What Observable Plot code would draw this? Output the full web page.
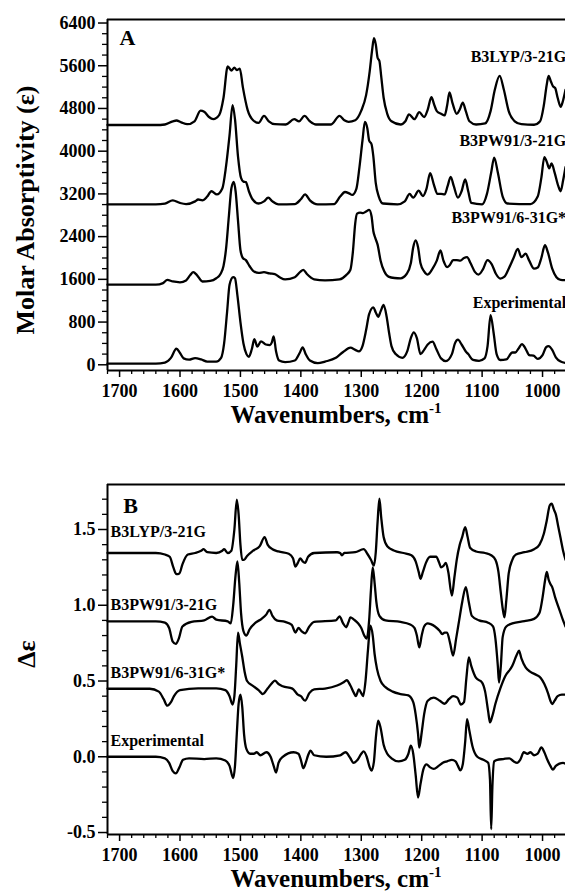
<!DOCTYPE html>
<html><head><meta charset="utf-8">
<script src="https://cdn.jsdelivr.net/npm/d3@7"></script>
<script src="https://cdn.jsdelivr.net/npm/@observablehq/plot@0.6"></script>
<style>
body{margin:0;background:#fff;}
#chart{width:565px;height:894px;overflow:hidden;background:#fff;}
#chart svg{display:block;}
</style></head><body><div id="chart"></div>
<script>
// ---------- Panel A: IR absorption, [wavenumber, molar absorptivity (offset as plotted)] ----------
const irB3LYP321 = [[1720,4490],[1640,4490],[1625,4500],[1612,4560],[1606,4575],[1598,4540],[1588,4505],[1576,4560],[1566,4760],[1560,4740],[1552,4640],[1545,4600],[1535,4680],[1528,5000],[1521,5590],[1515,5510],[1510,5565],[1506,5520],[1501,5545],[1496,5200],[1488,4770],[1479,4580],[1470,4530],[1461,4660],[1453,4560],[1443,4505],[1425,4500],[1411,4600],[1403,4560],[1394,4660],[1385,4560],[1375,4500],[1350,4500],[1336,4660],[1328,4580],[1321,4550],[1310,4580],[1300,4760],[1292,5050],[1286,5500],[1282,5900],[1279,6116],[1276,6000],[1273,5750],[1270,5690],[1267,5400],[1263,5000],[1257,4700],[1250,4560],[1235,4500],[1227,4560],[1221,4690],[1212,4600],[1204,4730],[1196,4640],[1190,4780],[1184,5010],[1179,4860],[1175,4750],[1168,4700],[1162,4670],[1158,4850],[1154,5100],[1149,4900],[1142,4700],[1137,4780],[1132,4910],[1127,4750],[1121,4560],[1110,4500],[1095,4520],[1086,4750],[1079,5150],[1071,5410],[1064,5150],[1056,4750],[1046,4560],[1035,4505],[1014,4495],[1004,4560],[998,4850],[993,5250],[990,5410],[986,5300],[983,5220],[979,5180],[975,5000],[970,4830],[966,4950],[962,5150]];
const irB3PW91321 = [[1720,3005],[1640,3005],[1625,3020],[1612,3080],[1600,3030],[1590,3010],[1575,3060],[1570,3095],[1563,3080],[1555,3150],[1548,3250],[1539,3190],[1530,3300],[1524,3700],[1518,4300],[1513,4864],[1509,4600],[1504,3900],[1499,3500],[1495,3430],[1491,3420],[1486,3250],[1480,3100],[1470,3020],[1461,3060],[1454,3130],[1447,3060],[1437,3005],[1410,3010],[1400,3100],[1393,3190],[1385,3080],[1372,3005],[1345,3010],[1335,3150],[1327,3236],[1320,3210],[1315,3180],[1308,3300],[1303,3700],[1298,4200],[1294,4550],[1290,4430],[1287,4200],[1283,4130],[1280,3900],[1276,3400],[1271,3150],[1264,3020],[1240,3005],[1228,3060],[1220,3200],[1214,3130],[1205,3260],[1198,3160],[1192,3300],[1186,3590],[1180,3380],[1174,3200],[1168,3200],[1162,3190],[1157,3350],[1152,3520],[1147,3350],[1140,3130],[1134,3250],[1128,3470],[1123,3250],[1118,3030],[1100,3005],[1092,3200],[1085,3600],[1080,3880],[1074,3600],[1066,3150],[1058,3020],[1020,3010],[1008,3150],[1002,3500],[997,3890],[993,3800],[989,3680],[985,3770],[980,3600],[974,3350],[970,3250],[966,3450],[962,3700]];
const irB3PW91631 = [[1720,1500],[1640,1500],[1628,1530],[1621,1590],[1612,1560],[1600,1545],[1590,1580],[1583,1680],[1578,1734],[1572,1680],[1563,1560],[1550,1570],[1540,1620],[1533,1700],[1528,1850],[1524,2150],[1519,2800],[1515,3300],[1511,3424],[1508,3250],[1504,2700],[1500,2150],[1496,2000],[1491,1960],[1485,1850],[1479,1760],[1470,1720],[1461,1734],[1452,1710],[1443,1700],[1435,1640],[1426,1600],[1410,1640],[1401,1740],[1396,1778],[1390,1700],[1378,1600],[1360,1580],[1336,1600],[1325,1680],[1318,1780],[1314,2100],[1310,2650],[1307,2830],[1302,2850],[1297,2840],[1292,2870],[1287,2900],[1283,2780],[1280,2500],[1277,2380],[1273,2250],[1268,1950],[1262,1750],[1255,1650],[1245,1625],[1235,1620],[1225,1700],[1218,1900],[1214,2200],[1210,2330],[1206,2200],[1202,1900],[1196,1750],[1190,1690],[1182,1800],[1175,1950],[1169,2140],[1164,1950],[1158,1830],[1154,1860],[1148,1960],[1142,1960],[1136,1950],[1130,2000],[1125,2016],[1119,1900],[1112,1740],[1106,1690],[1099,1780],[1091,1960],[1084,1880],[1077,1700],[1070,1615],[1063,1650],[1056,1800],[1048,2000],[1041,2170],[1035,2016],[1028,2080],[1022,1950],[1014,1800],[1008,1820],[1002,2000],[996,2240],[991,2100],[984,1800],[977,1640],[970,1590],[962,1585]];
const irExperimental = [[1720,20],[1640,20],[1625,40],[1615,130],[1606,300],[1600,220],[1594,120],[1585,95],[1575,125],[1565,100],[1555,60],[1540,60],[1532,130],[1527,400],[1522,1000],[1518,1500],[1512,1640],[1509,1620],[1505,1300],[1500,800],[1495,400],[1490,200],[1486,150],[1481,300],[1477,482],[1472,340],[1466,438],[1458,380],[1451,370],[1448,420],[1445,532],[1441,250],[1436,80],[1426,50],[1410,80],[1402,220],[1397,325],[1392,200],[1385,80],[1372,30],[1360,60],[1342,130],[1330,240],[1318,320],[1310,280],[1304,250],[1298,350],[1292,650],[1287,950],[1280,1076],[1276,980],[1272,900],[1268,1000],[1263,1120],[1258,900],[1254,600],[1250,350],[1243,200],[1232,130],[1224,250],[1218,500],[1213,607],[1208,500],[1202,200],[1196,280],[1190,380],[1182,432],[1176,300],[1168,120],[1160,70],[1150,200],[1145,400],[1140,470],[1134,380],[1127,250],[1123,200],[1115,90],[1105,75],[1096,120],[1091,350],[1086,930],[1081,600],[1076,200],[1070,90],[1060,100],[1050,230],[1045,230],[1040,300],[1034,388],[1028,300],[1022,180],[1015,170],[1008,110],[1000,180],[994,330],[990,350],[984,280],[978,140],[970,60],[962,35]];

// ---------- Panel B: VCD, [wavenumber, Δε (offset as plotted)] ----------
const vcdB3LYP321 = [[1720,1.345],[1640,1.345],[1625,1.335],[1617,1.32],[1611,1.25],[1606,1.205],[1601,1.21],[1596,1.27],[1587,1.335],[1575,1.345],[1565,1.36],[1561,1.37],[1555,1.35],[1540,1.345],[1530,1.36],[1527,1.37],[1521,1.345],[1515,1.36],[1510,1.50],[1506,1.697],[1503,1.60],[1500,1.40],[1497,1.30],[1494,1.30],[1489,1.325],[1479,1.36],[1468,1.39],[1460,1.45],[1455,1.40],[1447,1.37],[1437,1.355],[1420,1.34],[1413,1.31],[1409,1.255],[1405,1.28],[1401,1.31],[1397,1.29],[1393,1.28],[1388,1.32],[1378,1.345],[1340,1.35],[1335,1.345],[1332,1.33],[1328,1.345],[1310,1.35],[1296,1.37],[1290,1.34],[1284,1.30],[1279,1.262],[1276,1.35],[1273,1.55],[1270,1.703],[1267,1.58],[1263,1.45],[1257,1.39],[1245,1.36],[1230,1.345],[1217,1.33],[1210,1.29],[1205,1.22],[1202,1.175],[1198,1.22],[1193,1.28],[1186,1.32],[1181,1.32],[1176,1.32],[1171,1.28],[1168,1.25],[1164,1.26],[1160,1.28],[1156,1.22],[1150,1.064],[1146,1.18],[1142,1.30],[1137,1.40],[1133,1.45],[1128,1.515],[1124,1.45],[1120,1.38],[1110,1.355],[1095,1.345],[1085,1.33],[1078,1.30],[1073,1.22],[1069,1.08],[1066,0.98],[1063,0.92],[1060,1.03],[1056,1.21],[1050,1.30],[1044,1.335],[1030,1.35],[1014,1.37],[1005,1.40],[998,1.47],[993,1.56],[988,1.66],[985,1.67],[981,1.63],[978,1.60],[974,1.52],[970,1.44],[966,1.36],[962,1.30]];
const vcdB3PW91321 = [[1720,0.894],[1640,0.894],[1625,0.885],[1618,0.85],[1612,0.76],[1607,0.745],[1602,0.78],[1596,0.86],[1581,0.89],[1560,0.90],[1547,0.925],[1540,0.905],[1521,0.894],[1516,0.88],[1512,1.00],[1508,1.20],[1505,1.29],[1502,1.15],[1499,0.95],[1495,0.83],[1490,0.80],[1485,0.84],[1475,0.885],[1465,0.91],[1457,0.94],[1452,0.97],[1447,0.93],[1440,0.90],[1426,0.89],[1415,0.87],[1409,0.82],[1404,0.85],[1399,0.83],[1393,0.815],[1386,0.86],[1378,0.89],[1342,0.90],[1336,0.927],[1330,0.88],[1325,0.855],[1321,0.89],[1318,0.92],[1312,0.905],[1305,0.88],[1300,0.85],[1295,0.80],[1291,0.78],[1287,0.90],[1284,1.10],[1281,1.25],[1278,1.15],[1275,1.02],[1270,0.93],[1260,0.90],[1235,0.89],[1220,0.875],[1212,0.85],[1208,0.80],[1204,0.722],[1200,0.80],[1196,0.86],[1190,0.88],[1185,0.875],[1178,0.86],[1170,0.83],[1166,0.81],[1162,0.82],[1158,0.82],[1153,0.75],[1148,0.668],[1143,0.78],[1138,0.90],[1133,1.02],[1127,1.12],[1122,1.02],[1117,0.93],[1105,0.90],[1090,0.885],[1082,0.86],[1078,0.78],[1074,0.60],[1072,0.49],[1069,0.60],[1066,0.79],[1060,0.86],[1050,0.88],[1030,0.895],[1014,0.91],[1005,0.95],[1000,1.05],[996,1.16],[993,1.22],[990,1.17],[987,1.14],[984,1.12],[979,1.05],[972,0.97],[966,0.90],[962,0.86]];
const vcdB3PW91631 = [[1720,0.449],[1650,0.449],[1635,0.43],[1627,0.38],[1621,0.337],[1615,0.36],[1610,0.40],[1600,0.44],[1570,0.452],[1540,0.452],[1525,0.44],[1518,0.40],[1513,0.345],[1510,0.40],[1507,0.60],[1504,0.82],[1501,0.75],[1497,0.66],[1493,0.56],[1489,0.50],[1480,0.47],[1470,0.44],[1463,0.414],[1455,0.45],[1447,0.49],[1443,0.502],[1437,0.48],[1430,0.465],[1414,0.45],[1405,0.41],[1400,0.40],[1393,0.37],[1386,0.42],[1378,0.445],[1360,0.45],[1340,0.47],[1330,0.49],[1324,0.505],[1318,0.47],[1312,0.42],[1309,0.40],[1304,0.445],[1300,0.42],[1297,0.40],[1293,0.50],[1289,0.70],[1285,0.866],[1281,0.80],[1278,0.68],[1274,0.58],[1268,0.50],[1260,0.46],[1248,0.43],[1235,0.414],[1222,0.405],[1214,0.36],[1210,0.28],[1206,0.15],[1204,0.061],[1200,0.16],[1196,0.28],[1190,0.37],[1180,0.39],[1170,0.37],[1162,0.35],[1155,0.38],[1148,0.40],[1141,0.39],[1135,0.345],[1130,0.36],[1126,0.52],[1122,0.656],[1118,0.60],[1110,0.52],[1100,0.49],[1095,0.43],[1090,0.30],[1087,0.227],[1083,0.27],[1078,0.35],[1070,0.45],[1062,0.53],[1050,0.60],[1043,0.67],[1039,0.70],[1035,0.65],[1028,0.59],[1020,0.56],[1010,0.54],[1003,0.52],[997,0.48],[991,0.42],[987,0.37],[984,0.348],[980,0.37],[975,0.40],[968,0.41],[962,0.41]];
const vcdExperimental = [[1720,0.0],[1640,0.0],[1625,-0.01],[1618,-0.04],[1612,-0.095],[1607,-0.11],[1601,-0.07],[1595,-0.02],[1585,-0.01],[1560,-0.015],[1540,-0.01],[1525,-0.025],[1518,-0.06],[1512,-0.141],[1509,-0.06],[1506,0.15],[1503,0.35],[1500,0.41],[1497,0.33],[1494,0.15],[1490,0.05],[1484,0.02],[1478,0.02],[1473,0.03],[1467,0.01],[1457,0.03],[1450,0.0],[1445,-0.06],[1441,-0.104],[1437,-0.04],[1430,0.0],[1412,0.03],[1404,0.02],[1400,-0.02],[1396,-0.075],[1392,-0.04],[1388,0.01],[1384,0.04],[1378,0.01],[1358,0.0],[1335,0.01],[1326,0.03],[1318,-0.01],[1313,-0.04],[1306,-0.02],[1300,0.02],[1296,0.035],[1291,0.0],[1286,-0.07],[1283,-0.092],[1279,-0.03],[1276,0.12],[1272,0.238],[1268,0.19],[1263,0.08],[1257,0.02],[1250,-0.01],[1238,-0.03],[1228,-0.02],[1222,0.02],[1218,0.073],[1214,0.02],[1210,-0.12],[1206,-0.269],[1202,-0.18],[1197,-0.08],[1192,-0.05],[1186,-0.07],[1180,-0.08],[1172,-0.06],[1165,-0.04],[1158,-0.03],[1150,-0.02],[1144,-0.03],[1140,-0.06],[1136,-0.09],[1132,-0.05],[1128,0.10],[1125,0.249],[1121,0.17],[1116,0.07],[1108,0.0],[1098,-0.02],[1090,-0.04],[1087,-0.15],[1085,-0.478],[1083,-0.2],[1080,-0.03],[1075,-0.02],[1065,-0.015],[1055,-0.01],[1048,-0.03],[1042,-0.04],[1037,-0.02],[1031,0.03],[1025,0.02],[1020,0.03],[1014,0.01],[1008,0.02],[1002,0.062],[997,0.03],[992,-0.02],[987,-0.06],[983,-0.085],[978,-0.06],[972,-0.045],[966,-0.04],[962,-0.045]];

// ---------- labels & ticks ----------
const seriesLabels = ["B3LYP/3-21G", "B3PW91/3-21G", "B3PW91/6-31G*", "Experimental"];
const xTicks = [1700, 1600, 1500, 1400, 1300, 1200, 1100, 1000];
const yTicksA = [0, 800, 1600, 2400, 3200, 4000, 4800, 5600, 6400];
const yTicksB = [-0.5, 0.0, 0.5, 1.0, 1.5];
const xDomain = [1720, 962];
const yDomainA = [-107, 6466];
const yDomainB = [-0.513, 1.797];

const FONT = "'Liberation Serif', 'Times New Roman', Times, serif";
const xMinor = d3.range(980, 1721, 20).filter(v => v % 100 !== 0);
const yMinorA = d3.range(0, 6401, 200).filter(v => v % 800 !== 0);
const yMinorB = d3.range(-5, 18).map(v => v / 10).filter(v => Math.round(v * 10) % 5 !== 0);

function lineMark(data) {
  return Plot.line(data, {x: d => d[0], y: d => d[1], curve: "monotone-x", stroke: "#000", strokeWidth: 2.3, strokeLinejoin: "round"});
}
function frameMarks(yDom) {
  return [
    Plot.ruleY([yDom[0]], {stroke: "#000", strokeWidth: 2}),
    Plot.ruleY([yDom[1]], {stroke: "#000", strokeWidth: 2}),
    Plot.ruleX([xDomain[0]], {stroke: "#000", strokeWidth: 2})
  ];
}
function xAxes() {
  return [
    Plot.axisX(xMinor, {tickSize: 4, tickFormat: () => "", strokeWidth: 1.3, label: null}),
    Plot.axisX(xTicks, {tickSize: 7, tickPadding: 7, strokeWidth: 1.5, tickFormat: d => String(d), fontSize: 18, fontWeight: "bold", label: null})
  ];
}

function addXTitle(svg, baseline) {
  const t = d3.select(svg).append("text")
    .attr("x", 336).attr("y", baseline)
    .attr("text-anchor", "middle")
    .attr("font-family", FONT).attr("font-weight", "bold").attr("font-size", 25)
    .attr("fill", "#000");
  t.append("tspan").text("Wavenumbers, cm");
  t.append("tspan").attr("font-size", 15).attr("dy", -10).text("-1");
}
function addYTitle(svg, label, xBase, yCenter, size) {
  d3.select(svg).append("text")
    .attr("transform", `translate(${xBase},${yCenter}) rotate(-90)`)
    .attr("text-anchor", "middle")
    .attr("font-family", FONT).attr("font-weight", "bold").attr("font-size", size)
    .attr("fill", "#000")
    .text(label);
}

const common = {width: 565, marginLeft: 107, marginRight: 0, style: {fontFamily: FONT, fontWeight: "bold", fontSize: "18px", color: "#000", background: "#fff", overflow: "hidden"}};

const plotA = Plot.plot({
  ...common,
  height: 440, marginTop: 19, marginBottom: 70,
  x: {domain: xDomain},
  y: {domain: yDomainA},
  marks: [
    ...frameMarks(yDomainA),
    Plot.axisY(yMinorA, {tickSize: 5, tickFormat: () => "", strokeWidth: 1.3, label: null}),
    Plot.axisY(yTicksA, {tickSize: 9, tickPadding: 3, strokeWidth: 1.5, tickFormat: d => String(d), fontSize: 18, fontWeight: "bold", label: null}),
    ...xAxes(),
    lineMark(irB3LYP321),
    lineMark(irB3PW91321),
    lineMark(irB3PW91631),
    lineMark(irExperimental),
    Plot.text(["A"], {x: 1700, y: 6119, textAnchor: "start", fontSize: 22, fontWeight: "bold"}),
    Plot.text([seriesLabels[0]], {x: 961, y: 5773, textAnchor: "end", fontSize: 16, fontWeight: "bold"}),
    Plot.text([seriesLabels[1]], {x: 961, y: 4191, textAnchor: "end", fontSize: 16, fontWeight: "bold"}),
    Plot.text([seriesLabels[2]], {x: 961, y: 2749, textAnchor: "end", fontSize: 16, fontWeight: "bold"}),
    Plot.text([seriesLabels[3]], {x: 961, y: 1157, textAnchor: "end", fontSize: 16, fontWeight: "bold"})
  ]
});
addXTitle(plotA, 423);
addYTitle(plotA, "Molar Absorptivity (ε)", 34, 210, 26);

const plotB = Plot.plot({
  ...common,
  height: 454, marginTop: 44, marginBottom: 60,
  x: {domain: xDomain},
  y: {domain: yDomainB},
  marks: [
    ...frameMarks(yDomainB),
    Plot.axisY(yMinorB, {tickSize: 5, tickFormat: () => "", strokeWidth: 1.3, label: null}),
    Plot.axisY(yTicksB, {tickSize: 9, tickPadding: 3, strokeWidth: 1.5, tickFormat: d => d.toFixed(1), fontSize: 18, fontWeight: "bold", label: null}),
    ...xAxes(),
    lineMark(vcdB3LYP321),
    lineMark(vcdB3PW91321),
    lineMark(vcdB3PW91631),
    lineMark(vcdExperimental),
    Plot.text(["B"], {x: 1694, y: 1.658, textAnchor: "start", fontSize: 22, fontWeight: "bold"}),
    Plot.text([seriesLabels[0]], {x: 1715, y: 1.487, textAnchor: "start", fontSize: 16, fontWeight: "bold"}),
    Plot.text([seriesLabels[1]], {x: 1715, y: 1.005, textAnchor: "start", fontSize: 16, fontWeight: "bold"}),
    Plot.text([seriesLabels[2]], {x: 1715, y: 0.553, textAnchor: "start", fontSize: 16, fontWeight: "bold"}),
    Plot.text([seriesLabels[3]], {x: 1715, y: 0.107, textAnchor: "start", fontSize: 16, fontWeight: "bold"})
  ]
});
addXTitle(plotB, 447);
addYTitle(plotB, "Δε", 35, 214, 26);

const chart = document.getElementById("chart");
chart.appendChild(plotA);
chart.appendChild(plotB);
</script>
</body></html>
